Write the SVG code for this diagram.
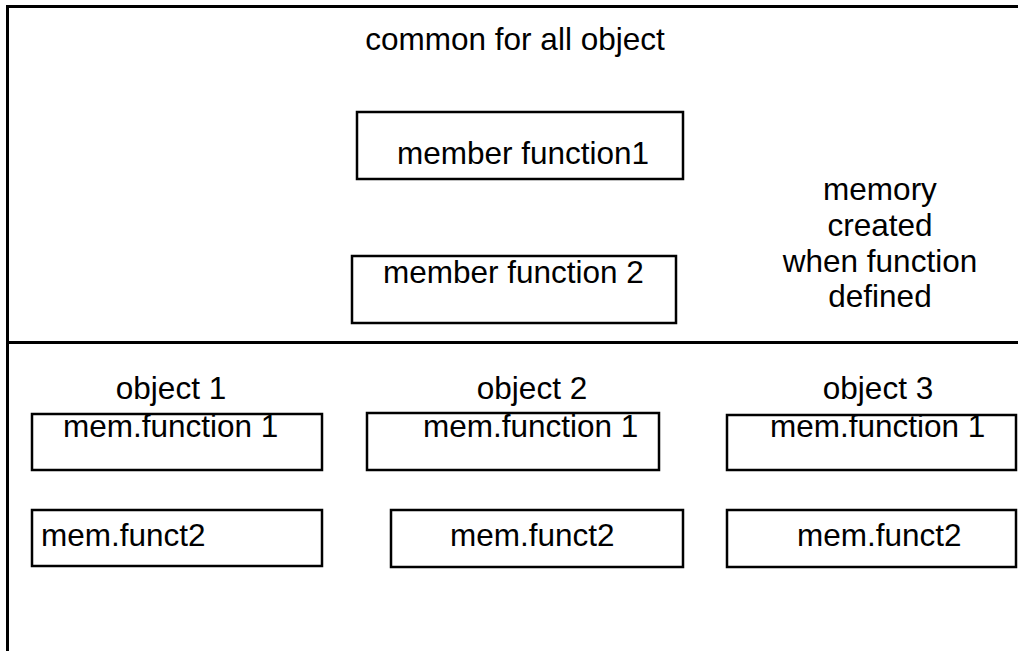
<svg xmlns="http://www.w3.org/2000/svg" width="1018" height="651" viewBox="0 0 1018 651">
<style>
.b{fill:#fff;stroke:#000;stroke-width:2.5}
.l{fill:none;stroke:#000;stroke-width:3}
text{font-family:"Liberation Sans",Arial,sans-serif;font-size:31.5px;fill:#000}
.m{text-anchor:middle}
</style>
<rect width="1018" height="651" fill="#fff"/>
<g id="frame">
<path class="l" d="M7.5,660 V6.5 H1030"/>
<line class="l" x1="7.5" y1="342.5" x2="1030" y2="342.5"/>
<text x="515" y="50" class="m">common for all object</text>
</g>
<g id="mf1">
<rect class="b" x="357" y="112" width="326" height="67"/>
<text x="397" y="164">member function1</text>
</g>
<g id="mf2">
<rect class="b" x="352" y="256" width="324" height="67"/>
<text x="383" y="283">member function 2</text>
</g>
<g id="memory">
<text class="m" x="880" y="200">memory</text>
<text class="m" x="880" y="236">created</text>
<text class="m" x="880" y="272">when function</text>
<text class="m" x="880" y="307">defined</text>
</g>
<g id="obj1">
<text class="m" x="171" y="399">object 1</text>
<rect class="b" x="32" y="414" width="290" height="56"/>
<text x="63" y="437">mem.function 1</text>
<rect class="b" x="32" y="510" width="290" height="56"/>
<text x="41" y="546">mem.funct2</text>
</g>
<g id="obj2">
<text class="m" x="532" y="399">object 2</text>
<rect class="b" x="367" y="413" width="292" height="57"/>
<text x="423" y="437">mem.function 1</text>
<rect class="b" x="391" y="510" width="292" height="57"/>
<text x="450" y="546">mem.funct2</text>
</g>
<g id="obj3">
<text class="m" x="878" y="399">object 3</text>
<rect class="b" x="727" y="415" width="289" height="55"/>
<text x="770" y="437">mem.function 1</text>
<rect class="b" x="727" y="510" width="289" height="57"/>
<text x="797" y="546">mem.funct2</text>
</g>
<g id="connectors"></g>
</svg>
